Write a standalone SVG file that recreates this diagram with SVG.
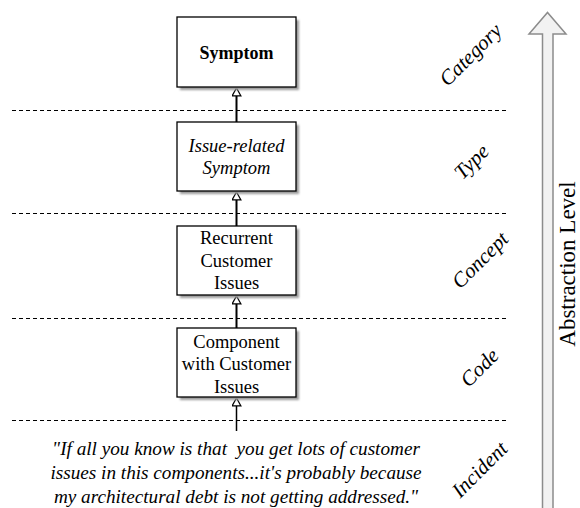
<svg xmlns="http://www.w3.org/2000/svg" width="580" height="508" viewBox="0 0 580 508">
<style>
.box{fill:#fff;stroke:#000;stroke-width:1.3}
.shadow{fill:#9a9a9a;filter:url(#blur)}
.dash{stroke:#000;stroke-width:1;stroke-dasharray:4 3;fill:none}
.conn{stroke:#000;stroke-width:2;fill:none}
</style>
<defs>
<filter id="blur" x="-10%" y="-10%" width="130%" height="130%"><feGaussianBlur stdDeviation="1"/></filter>
<marker id="tri" viewBox="0 0 9 10" refX="8.5" refY="5" markerWidth="9" markerHeight="10" markerUnits="userSpaceOnUse" orient="auto">
<path d="M8.5,5 L0.6,0.6 L0.6,9.4 Z" fill="#fff" stroke="#000" stroke-width="1.2"/>
</marker>
</defs>

<g id="levels">
<line class="dash" x1="12" y1="110.5" x2="506" y2="110.5"/>
<line class="dash" x1="12" y1="213.5" x2="506" y2="213.5"/>
<line class="dash" x1="12" y1="318.5" x2="506" y2="318.5"/>
<line class="dash" x1="12" y1="420.5" x2="506" y2="420.5"/>
</g>

<g id="connectors">
<line class="conn" x1="236.5" y1="122" x2="236.5" y2="88" marker-end="url(#tri)"/>
<line class="conn" x1="236.5" y1="226" x2="236.5" y2="192" marker-end="url(#tri)"/>
<line class="conn" x1="236.5" y1="328" x2="236.5" y2="296" marker-end="url(#tri)"/>
<line class="conn" style="stroke-width:1.5" x1="236.5" y1="431" x2="236.5" y2="398" marker-end="url(#tri)"/>
</g>

<g id="symptom">
<rect class="shadow" x="180" y="20" width="119" height="70"/>
<rect class="box" x="177" y="17" width="119" height="70"/>
<text x="236.5" y="59" font-family="Liberation Serif, Times New Roman, serif" font-size="18" font-weight="bold" text-anchor="middle" fill="#000">Symptom</text>
</g>

<g id="issue-related">
<rect class="shadow" x="180" y="125" width="119" height="69"/>
<rect class="box" x="177" y="122" width="119" height="69"/>
<text x="236.5" y="152" font-family="Liberation Serif, Times New Roman, serif" font-size="18.5" font-style="italic" text-anchor="middle" fill="#000">Issue-related</text>
<text x="236.5" y="174" font-family="Liberation Serif, Times New Roman, serif" font-size="18.5" font-style="italic" text-anchor="middle" fill="#000">Symptom</text>
</g>

<g id="recurrent">
<rect class="shadow" x="180" y="229" width="119" height="69"/>
<rect class="box" x="177" y="226" width="119" height="69"/>
<text x="236.5" y="244" font-family="Liberation Serif, Times New Roman, serif" font-size="18.5" text-anchor="middle" fill="#000">Recurrent</text>
<text x="236.5" y="267" font-family="Liberation Serif, Times New Roman, serif" font-size="18.5" text-anchor="middle" fill="#000">Customer</text>
<text x="236.5" y="289" font-family="Liberation Serif, Times New Roman, serif" font-size="18.5" text-anchor="middle" fill="#000">Issues</text>
</g>

<g id="component">
<rect class="shadow" x="180" y="331" width="119" height="69"/>
<rect class="box" x="177" y="328" width="119" height="69"/>
<text x="236.5" y="348" font-family="Liberation Serif, Times New Roman, serif" font-size="18.5" text-anchor="middle" fill="#000">Component</text>
<text x="236.5" y="370" font-family="Liberation Serif, Times New Roman, serif" font-size="18.5" text-anchor="middle" fill="#000">with Customer</text>
<text x="236.5" y="393" font-family="Liberation Serif, Times New Roman, serif" font-size="18.5" text-anchor="middle" fill="#000">Issues</text>
</g>

<g id="quote">
<text x="236" y="455" font-family="Liberation Serif, Times New Roman, serif" font-size="19.2" font-style="italic" text-anchor="middle" fill="#000" xml:space="preserve">"If all you know is that  you get lots of customer</text>
<text x="236" y="479" font-family="Liberation Serif, Times New Roman, serif" font-size="19.2" font-style="italic" text-anchor="middle" fill="#000">issues in this components...it's probably because</text>
<text x="236" y="503" font-family="Liberation Serif, Times New Roman, serif" font-size="19.2" font-style="italic" text-anchor="middle" fill="#000">my architectural debt is not getting addressed."</text>
</g>

<g id="level-labels">
<text transform="translate(475.5,59.5) rotate(-45)" font-family="Liberation Serif, Times New Roman, serif" font-size="21" font-style="italic" text-anchor="middle" fill="#000">Category</text>
<text transform="translate(476.5,166.5) rotate(-45)" font-family="Liberation Serif, Times New Roman, serif" font-size="21" font-style="italic" text-anchor="middle" fill="#000">Type</text>
<text transform="translate(485,265) rotate(-45)" font-family="Liberation Serif, Times New Roman, serif" font-size="21" font-style="italic" text-anchor="middle" fill="#000">Concept</text>
<text transform="translate(484.5,372.5) rotate(-45)" font-family="Liberation Serif, Times New Roman, serif" font-size="21" font-style="italic" text-anchor="middle" fill="#000">Code</text>
<text transform="translate(484.5,474.5) rotate(-45)" font-family="Liberation Serif, Times New Roman, serif" font-size="21" font-style="italic" text-anchor="middle" fill="#000">Incident</text>
</g>

<g id="abstraction-arrow">
<path d="M542.5,509 L542.5,34 L529,34 L547.5,12.5 L566,34 L553,34 L553,509" fill="#f2f2f2" stroke="#8c8c8c" stroke-width="1.5"/>
<text transform="translate(575,264) rotate(-90)" font-family="Liberation Serif, Times New Roman, serif" font-size="23" text-anchor="middle" fill="#000">Abstraction Level</text>
</g>
</svg>
